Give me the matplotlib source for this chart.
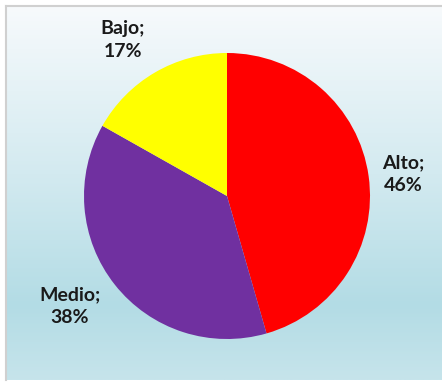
import matplotlib.pyplot as plt
import numpy as np
from matplotlib.colors import LinearSegmentedColormap

categories = ["Alto", "Medio", "Bajo"]
shares = [46, 38, 17]
colors = ["#ff0000", "#7030a0", "#ffff00"]

plt.rcParams["font.family"] = ["Lato", "DejaVu Sans"]

fig = plt.figure(figsize=(4.42, 3.83), dpi=100)
fig.patch.set_facecolor("white")

# chart area with a vertical white-to-blue fill
bg = fig.add_axes([6 / 442, 3 / 383, 1 - 6 / 442, 1 - 9 / 383])
grad = LinearSegmentedColormap.from_list(
    "bg", [(0.0, "#c6e4eb"), (0.2, "#b3dce5"), (0.55, "#d3eaf0"), (1.0, "#f7fafc")]
)
bg.imshow(np.linspace(0, 1, 256).reshape(-1, 1), aspect="auto", cmap=grad,
          origin="lower", extent=[0, 1, 0, 1])
bg.set_xlim(0, 1)
bg.set_ylim(0, 1)
bg.set_xticks([])
bg.set_yticks([])
for side, sp in bg.spines.items():
    sp.set_color("#d0d0d0")
    sp.set_linewidth(1.5)
    sp.set_visible(side in ("top", "left"))

# pie axes centred at (227, 196) px with radius ~143 px
r = 143
cx, cy = 227, 383 - 196
ax = fig.add_axes([(cx - r) / 442, (cy - r) / 383, 2 * r / 442, 2 * r / 383])
ax.set_facecolor("none")

wedges, _ = ax.pie(shares, colors=colors, startangle=90, counterclock=False,
                   wedgeprops=dict(linewidth=0))
ax.set_xlim(-1, 1)
ax.set_ylim(-1, 1)
ax.set_aspect("equal")

label_pos = {"Alto": (403, 174), "Medio": (70, 306), "Bajo": (123, 40)}
for name, val in zip(categories, shares):
    x, y = label_pos[name]
    fig.text(x / 442, 1 - y / 383, f"{name};\n{val}%", ha="center", va="center",
             fontsize=14, fontweight="bold", color="#1a1a1a", linespacing=1.45)

fig.savefig("out.png", dpi=100)
